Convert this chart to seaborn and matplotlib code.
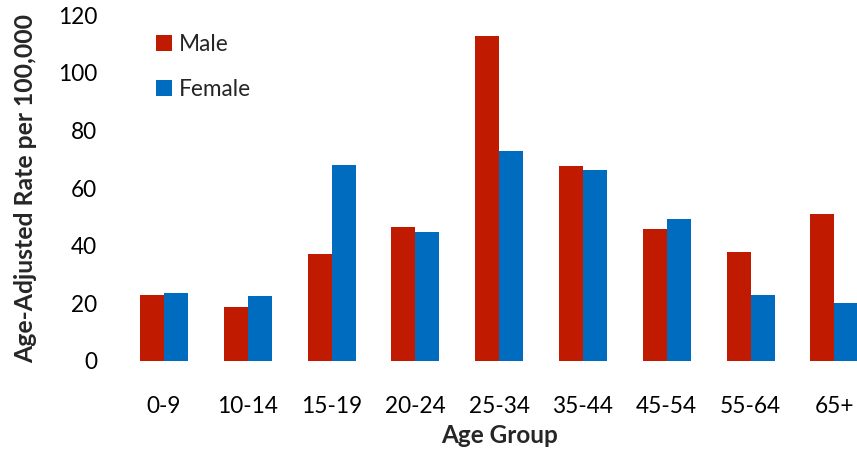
import matplotlib
matplotlib.use("Agg")
import matplotlib.pyplot as plt
import seaborn as sns
import pandas as pd

# Age-adjusted rates per 100,000 by age group and sex
age_groups = ["0-9", "10-14", "15-19", "20-24", "25-34", "35-44", "45-54", "55-64", "65+"]
male_rates = [22.9, 18.7, 37.1, 46.5, 112.7, 67.6, 45.8, 37.8, 51.0]
female_rates = [23.6, 22.5, 68.0, 44.7, 72.8, 66.3, 49.3, 22.9, 20.1]
sexes = ["Male", "Female"]
y_ticks = [0, 20, 40, 60, 80, 100, 120]

df = pd.DataFrame({
    "Age Group": age_groups * 2,
    "Rate": male_rates + female_rates,
    "Sex": [sexes[0]] * len(age_groups) + [sexes[1]] * len(age_groups),
})

sns.set_style("white")
plt.rcParams["font.family"] = ["Lato", "DejaVu Sans"]

fig = plt.figure(figsize=(8.57, 4.55), dpi=100)
ax = fig.add_axes([0.1425, 0.2066, 0.88, 0.7604])

palette = {"Male": "#C01A00", "Female": "#006CBF"}
sns.barplot(data=df, x="Age Group", y="Rate", hue="Sex", order=age_groups,
            hue_order=sexes, palette=palette, width=0.573, saturation=1,
            errorbar=None, linewidth=0, ax=ax)

ax.set_xlim(-0.5, len(age_groups) - 0.5)
ax.set_ylim(0, 120)
ax.set_yticks(y_ticks)
ax.tick_params(axis="both", length=0, labelsize=16.3, colors="black")
ax.tick_params(axis="y", pad=18)
ax.tick_params(axis="x", pad=25)
for s in ax.spines.values():
    s.set_visible(False)

ax.set_xlabel("Age Group", fontsize=17.5, fontweight="bold", labelpad=5)
ax.set_ylabel("Age-Adjusted Rate per 100,000", fontsize=17.8, fontweight="bold", labelpad=15)

leg = ax.legend(loc="upper left", bbox_to_anchor=(0.027, 0.985), frameon=False,
                fontsize=16.3, handlelength=0.72, handleheight=0.72,
                handletextpad=0.3, labelspacing=1.05, borderaxespad=0.2)

fig.savefig("out.png", dpi=100)
